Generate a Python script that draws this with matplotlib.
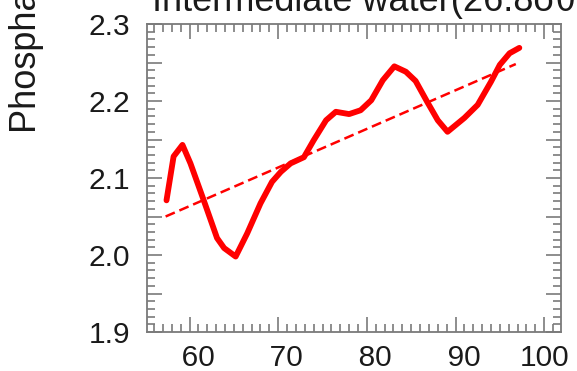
import numpy as np
import matplotlib
matplotlib.use("Agg")
import matplotlib.pyplot as plt
from matplotlib.ticker import MultipleLocator, FixedLocator

plt.rcParams['font.family'] = ['Liberation Sans', 'DejaVu Sans']

# phosphate curve
lat = [57.4, 58.2, 59.2, 60.1, 61.6, 63.1, 63.9, 65.2, 66.5, 68.0, 69.3, 70.3,
       71.4, 72.9, 74.0, 75.4, 76.5, 78.0, 79.3, 80.5, 81.8, 83.1, 84.4, 85.5,
       86.8, 88.0, 89.1, 91.0, 92.5, 94.0, 95.0, 96.1, 97.2]
phos = [2.071, 2.128, 2.143, 2.119, 2.071, 2.022, 2.009, 1.998, 2.028, 2.067, 2.095, 2.108,
        2.119, 2.127, 2.149, 2.175, 2.186, 2.183, 2.188, 2.201, 2.227, 2.245, 2.238, 2.226,
        2.199, 2.175, 2.160, 2.178, 2.195, 2.225, 2.247, 2.262, 2.269]
# linear trend end points
trend_lat = [57.3, 96.8]
trend_phos = [2.050, 2.248]

xticks = [60, 70, 80, 90, 100]
xlabels = ['\u200760', '\u200770', '\u200780', '\u200790', '100']
yticks = [1.9, 1.95, 2.0, 2.05, 2.1, 2.15, 2.2, 2.25, 2.3]
ylabels = ['1.9', '', '2.0', '', '2.1', '', '2.2', '', '2.3']

fig = plt.figure(figsize=(5.77, 3.71), dpi=100)
ax = fig.add_axes([147/577, 1-332/371, (561-147)/577, (332-24)/371])

ax.plot(lat, phos, color='#ff0000', lw=4.2, solid_joinstyle='round', solid_capstyle='round')
ax.plot(trend_lat, trend_phos, color='#ff0000', lw=1.8, dashes=(4, 2))

ax.set_xlim(55.2, 101.9)
ax.set_ylim(1.9, 2.3)
ax.xaxis.set_major_locator(FixedLocator(xticks))
ax.set_xticklabels(xlabels)
ax.xaxis.set_minor_locator(MultipleLocator(1))
ax.yaxis.set_major_locator(FixedLocator(yticks))
ax.set_yticklabels(ylabels)
ax.yaxis.set_minor_locator(MultipleLocator(0.01))

gray = '#7a7a7a'
for s in ax.spines.values():
    s.set_color(gray)
    s.set_linewidth(1.3)
ax.tick_params(which='both', direction='in', top=True, right=True, color=gray, width=1.2,
               labelsize=21.5, labelcolor='#1a1a1a')
ax.tick_params(which='major', length=11)
ax.tick_params(which='minor', length=6)
ax.tick_params(axis='x', which='major', pad=9)
ax.tick_params(axis='y', which='major', pad=12)

fig.text(152/577, 1-11/371, 'Intermediate water(26.8\u03c3\u03b8-27.2\u03c3\u03b8)',
         fontsize=26, ha='left', va='baseline', color='#1a1a1a')
fig.text(27/577, 1-133/371, 'Phosphate (\u03bcmol/kg)', rotation=90,
         fontsize=26, ha='center', va='bottom', color='#1a1a1a')

fig.savefig('out.png', dpi=100)
